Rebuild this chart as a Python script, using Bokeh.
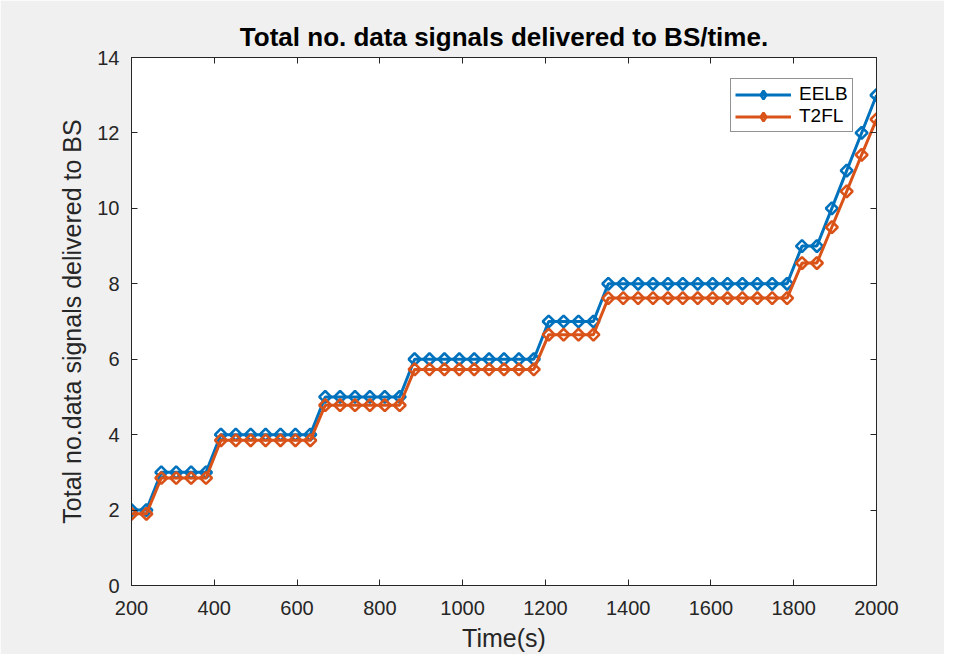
import math
from bokeh.plotting import figure
from bokeh.models import LinearAxis, FixedTicker, Range1d, ColumnDataSource, Legend, LegendItem
from bokeh.embed import file_html
from bokeh.resources import INLINE

time_s = [200, 236, 272, 308, 344, 380, 416, 452, 488, 524, 560, 596, 632,
          668, 704, 740, 776, 812, 848, 884, 920, 956, 992, 1028, 1064, 1100,
          1136, 1172, 1208, 1244, 1280, 1316, 1352, 1388, 1424, 1460, 1496,
          1532, 1568, 1604, 1640, 1676, 1712, 1748, 1784, 1820, 1856, 1892,
          1928, 1964, 2000]

eelb = [2, 2, 3, 3, 3, 3, 4, 4, 4, 4, 4, 4, 4,
        5, 5, 5, 5, 5, 5, 6, 6, 6, 6, 6, 6, 6,
        6, 6, 7, 7, 7, 7, 8, 8, 8, 8, 8,
        8, 8, 8, 8, 8, 8, 8, 8, 9, 9, 10,
        11, 12, 13]

t2fl = [1.9, 1.9, 2.85, 2.85, 2.85, 2.85, 3.85, 3.85, 3.85, 3.85, 3.85, 3.85, 3.85,
        4.78, 4.78, 4.78, 4.78, 4.78, 4.78, 5.73, 5.73, 5.73, 5.73, 5.73, 5.73, 5.73,
        5.73, 5.73, 6.65, 6.65, 6.65, 6.65, 7.62, 7.62, 7.62, 7.62, 7.62,
        7.62, 7.62, 7.62, 7.62, 7.62, 7.62, 7.62, 7.62, 8.55, 8.55, 9.5,
        10.45, 11.42, 12.36]

x_ticks = [200, 400, 600, 800, 1000, 1200, 1400, 1600, 1800, 2000]
y_ticks = [0, 2, 4, 6, 8, 10, 12, 14]

BG = "#f0f0f0"
AX = "#262626"
FONT = "Liberation Sans"

p = figure(width=944, height=654, output_backend="svg", toolbar_location=None,
           x_range=Range1d(200, 2000), y_range=Range1d(0, 14),
           min_border_left=131, min_border_right=68, min_border_top=57,
           min_border_bottom=69, background_fill_color="white",
           border_fill_color=BG, outline_line_color=AX, outline_line_width=1,
           title="Total no. data signals delivered to BS/time.")

p.title.align = "center"
p.title.text_font = FONT
p.title.text_font_size = "26px"
p.title.text_font_style = "bold"
p.title.text_color = "black"
p.title.standoff = 11

p.grid.visible = False

for ax in (p.xaxis[0], p.yaxis[0]):
    ax.major_tick_in = 6
    ax.major_tick_out = 0
    ax.minor_tick_in = 0
    ax.minor_tick_out = 0
    ax.axis_line_color = AX
    ax.major_tick_line_color = AX
    ax.major_label_text_font = FONT
    ax.major_label_text_font_size = "20px"
    ax.major_label_text_color = AX
    ax.axis_label_text_font = FONT
    ax.axis_label_text_font_size = "25px"
    ax.axis_label_text_font_style = "normal"
    ax.axis_label_text_color = AX

p.xaxis[0].ticker = FixedTicker(ticks=x_ticks)
p.yaxis[0].ticker = FixedTicker(ticks=y_ticks)
p.xaxis[0].axis_label = "Time(s)"
p.yaxis[0].axis_label = "Total no.data signals delivered to BS"
p.xaxis[0].major_label_standoff = 15
p.yaxis[0].major_label_standoff = 12
p.xaxis[0].axis_label_standoff = 6
p.yaxis[0].axis_label_standoff = 8

top = LinearAxis(ticker=FixedTicker(ticks=x_ticks),
                 major_label_overrides={t: "" for t in x_ticks})
right = LinearAxis(ticker=FixedTicker(ticks=y_ticks),
                   major_label_overrides={t: "" for t in y_ticks})
for ax in (top, right):
    ax.major_tick_in = 6
    ax.major_tick_out = 0
    ax.minor_tick_in = 0
    ax.minor_tick_out = 0
    ax.axis_line_color = AX
    ax.major_tick_line_color = AX
    ax.major_label_text_font_size = "10px"
    ax.major_label_standoff = 0
p.add_layout(top, "above")
p.add_layout(right, "right")

C1 = "#0072BD"
C2 = "#D95319"

items = []
for ys, col, name in ((eelb, C1, "EELB"), (t2fl, C2, "T2FL")):
    src = ColumnDataSource(dict(x=time_s, y=ys))
    lr = p.line("x", "y", source=src, line_color=col, line_width=3)
    p.scatter("x", "y", source=src, marker="square", angle=math.pi / 4, size=8.4,
              line_color=col, line_width=2.6, fill_color=None)
    leg_r = p.scatter("x", "y", source=src, marker="diamond", size=14.5,
                      line_color=col, line_width=2.6, fill_color=None, visible=False)
    items.append(LegendItem(label=name, renderers=[lr, leg_r]))

lg = Legend(items=items, location=(599, 453))
lg.margin = 0
lg.padding = 4
lg.spacing = 0
lg.glyph_width = 56
lg.glyph_height = 21
lg.label_height = 21
lg.label_standoff = 8
lg.label_text_font = FONT
lg.label_text_font_size = "19px"
lg.label_text_color = "black"
lg.border_line_color = AX
lg.border_line_width = 1
lg.background_fill_color = "white"
lg.background_fill_alpha = 1
p.add_layout(lg, "center")

open("out.html", "w").write(file_html(p, INLINE))
